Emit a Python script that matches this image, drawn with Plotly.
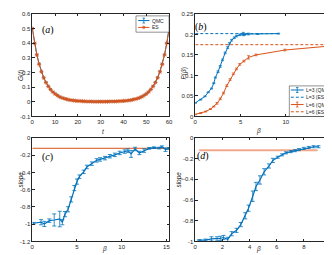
import plotly.graph_objects as go

BLUE = "#0072BD"
ORANGE = "#D95319"
AX = "#262626"

# ---------- panel (a) ----------
t_vals = list(range(61))
G_es = [0.500, 0.400, 0.320, 0.256, 0.205, 0.164, 0.131, 0.105, 0.084, 0.067,
        0.054, 0.043, 0.034, 0.027, 0.022, 0.018, 0.014, 0.011, 0.009, 0.007,
        0.006, 0.005, 0.004, 0.003, 0.002, 0.002, 0.002, 0.001, 0.001, 0.001,
        0.001, 0.001, 0.001, 0.001, 0.002, 0.002, 0.002, 0.003, 0.004, 0.005,
        0.006, 0.007, 0.009, 0.011, 0.014, 0.018, 0.022, 0.027, 0.034, 0.043,
        0.054, 0.067, 0.084, 0.105, 0.131, 0.164, 0.205, 0.256, 0.320, 0.400,
        0.500]
G_qmc = [0.500, 0.401, 0.322, 0.259, 0.207, 0.166, 0.133, 0.106, 0.085, 0.068,
         0.055, 0.044, 0.035, 0.028, 0.022, 0.018, 0.014, 0.011, 0.009, 0.007,
         0.006, 0.005, 0.004, 0.003, 0.002, 0.002, 0.002, 0.001, 0.001, 0.001,
         0.001, 0.001, 0.001, 0.001, 0.002, 0.002, 0.002, 0.003, 0.004, 0.005,
         0.006, 0.007, 0.009, 0.011, 0.014, 0.018, 0.022, 0.028, 0.035, 0.044,
         0.055, 0.068, 0.085, 0.107, 0.133, 0.166, 0.207, 0.259, 0.322, 0.401,
         0.500]
G_err = [0.003] * 61
a_yticks = [-0.1, 0, 0.1, 0.2, 0.3, 0.4, 0.5, 0.6]
a_yticktext = ["-0.1", "0", "0.1", "0.2", "0.3", "0.4", "0.5", "0.6"]

# ---------- panel (b) ----------
beta_L3 = [0.0, 0.6, 1.07, 1.43, 1.79, 2.04, 2.22, 2.51, 2.76, 3.01, 3.3, 3.58,
           3.77, 4.02, 4.3, 4.55, 4.91, 5.3, 5.45, 5.88, 6.9, 9.2]
P_L3 = [0.033, 0.041, 0.049, 0.059, 0.068, 0.081, 0.095, 0.109, 0.122, 0.138,
        0.155, 0.168, 0.178, 0.186, 0.192, 0.196, 0.199, 0.201, 0.200, 0.201,
        0.201, 0.202]
P_L3_err = [0.001, 0.001, 0.001, 0.001, 0.001, 0.001, 0.001, 0.002, 0.002,
            0.002, 0.002, 0.002, 0.002, 0.002, 0.002, 0.002, 0.002, 0.004,
            0.002, 0.002, 0.001, 0.001]
beta_L3_es = [0.0, 9.2]
P_L3_es = [0.202, 0.202]

beta_L6 = [0.0, 0.6, 1.14, 1.68, 2.04, 2.4, 2.76, 3.12, 3.48, 3.84, 4.2, 4.55,
           4.91, 5.38, 5.88, 6.7, 9.9, 15.0]
P_L6 = [0.005, 0.008, 0.012, 0.018, 0.024, 0.032, 0.043, 0.057, 0.075, 0.090,
        0.104, 0.116, 0.127, 0.135, 0.144, 0.150, 0.162, 0.172]
P_L6_err = [0.001, 0.001, 0.001, 0.001, 0.001, 0.002, 0.002, 0.002, 0.002,
            0.002, 0.002, 0.002, 0.002, 0.002, 0.004, 0.002, 0.002, 0.002]
beta_L6_es = [0.0, 15.0]
P_L6_es = [0.175, 0.175]
b_yticks = [0, 0.05, 0.1, 0.15, 0.2, 0.25]
b_yticktext = ["0", "0.05", "0.1", "0.15", "0.2", "0.25"]

# ---------- panel (c) ----------
beta_c = [0.14, 0.98, 1.35, 1.9, 2.45, 3.07, 3.36, 3.66, 4.0, 4.35, 4.7, 5.0,
          5.27, 5.75, 6.1, 6.66, 7.2, 7.58, 8.13, 8.68, 9.23, 9.78, 10.33,
          10.7, 11.05, 11.5, 11.98, 12.5, 13.08, 13.6, 14.2, 14.5, 14.9, 15.3]
slope_c = [-0.989, -0.977, -0.997, -0.959, -0.951, -0.940, -0.977, -0.883,
           -0.827, -0.713, -0.581, -0.506, -0.449, -0.393, -0.336, -0.298,
           -0.260, -0.249, -0.234, -0.212, -0.196, -0.174, -0.158, -0.147,
           -0.185, -0.128, -0.174, -0.147, -0.121, -0.113, -0.117, -0.102,
           -0.136, -0.121]
slope_c_err = [0.01, 0.03, 0.03, 0.02, 0.07, 0.09, 0.03, 0.03, 0.03, 0.03,
               0.03, 0.03, 0.02, 0.02, 0.02, 0.02, 0.02, 0.02, 0.02, 0.02,
               0.02, 0.02, 0.02, 0.02, 0.04, 0.02, 0.02, 0.02, 0.01, 0.01,
               0.01, 0.01, 0.02, 0.01]
beta_c_es = [0.0, 15.3]
slope_c_es = [-0.12, -0.12]
c_yticks = [-1.2, -1.0, -0.8, -0.6, -0.4, -0.2, 0]
c_yticktext = ["-1.2", "-1", "-0.8", "-0.6", "-0.4", "-0.2", "0"]

# ---------- panel (d) ----------
beta_d = [0.29, 0.76, 1.19, 1.6, 1.84, 2.08, 2.39, 2.68, 3.04, 3.35, 3.68,
          3.92, 4.23, 4.47, 4.76, 5.07, 5.43, 5.71, 6.07, 6.39, 6.68, 7.04,
          7.34, 7.63, 7.99, 8.35, 8.71, 9.07]
slope_d = [-0.987, -0.987, -0.975, -0.975, -0.970, -0.962, -0.980, -0.925,
           -0.893, -0.837, -0.752, -0.679, -0.563, -0.469, -0.406, -0.327,
           -0.271, -0.217, -0.186, -0.163, -0.144, -0.132, -0.123, -0.113,
           -0.101, -0.092, -0.085, -0.085]
slope_d_err = [0.005, 0.01, 0.02, 0.02, 0.02, 0.02, 0.02, 0.02, 0.02, 0.02,
               0.03, 0.03, 0.05, 0.04, 0.04, 0.03, 0.02, 0.02, 0.01, 0.01,
               0.01, 0.01, 0.01, 0.01, 0.01, 0.01, 0.01, 0.01]
beta_d_es = [0.29, 9.0]
slope_d_es = [-0.12, -0.12]
d_yticks = [-1.0, -0.8, -0.6, -0.4, -0.2, 0]
d_yticktext = ["-1", "-0.8", "-0.6", "-0.4", "-0.2", "0"]

legend_a_labels = ["QMC", "ES"]
legend_b_labels = ["L=3 (QMC)", "L=3 (ES)", "L=6 (QMC)", "L=6 (ES)"]

W, H = 332, 255


def px(xp):
    return xp / W


def py(yp):
    return 1 - yp / H


fig = go.Figure()

# (a)
fig.add_trace(go.Scatter(x=t_vals, y=G_qmc, mode="lines", name="QMC",
                         line=dict(color=BLUE, width=1),
                         error_y=dict(type="data", array=G_err, color=BLUE,
                                      thickness=0.8, width=1.5),
                         xaxis="x", yaxis="y"))
fig.add_trace(go.Scatter(x=t_vals, y=G_es, mode="lines+markers", name="ES",
                         line=dict(color=ORANGE, width=1),
                         marker=dict(symbol="asterisk-open", size=3.5,
                                     line=dict(color=ORANGE, width=0.8)),
                         xaxis="x", yaxis="y"))

# (b)
fig.add_trace(go.Scatter(x=beta_L3, y=P_L3, mode="lines", name="L=3 (QMC)",
                         line=dict(color=BLUE, width=1),
                         error_y=dict(type="data", array=P_L3_err, color=BLUE,
                                      thickness=0.8, width=1.5),
                         xaxis="x2", yaxis="y2"))
fig.add_trace(go.Scatter(x=beta_L3_es, y=P_L3_es, mode="lines", name="L=3 (ES)",
                         line=dict(color=BLUE, width=1, dash="3px,2px"),
                         xaxis="x2", yaxis="y2"))
fig.add_trace(go.Scatter(x=beta_L6, y=P_L6, mode="lines", name="L=6 (QMC)",
                         line=dict(color=ORANGE, width=1),
                         error_y=dict(type="data", array=P_L6_err, color=ORANGE,
                                      thickness=0.8, width=1.5),
                         xaxis="x2", yaxis="y2"))
fig.add_trace(go.Scatter(x=beta_L6_es, y=P_L6_es, mode="lines", name="L=6 (ES)",
                         line=dict(color=ORANGE, width=1, dash="3px,2px"),
                         xaxis="x2", yaxis="y2"))

# (c)
fig.add_trace(go.Scatter(x=beta_c_es, y=slope_c_es, mode="lines",
                         line=dict(color=ORANGE, width=1),
                         xaxis="x3", yaxis="y3"))
fig.add_trace(go.Scatter(x=beta_c, y=slope_c, mode="lines",
                         line=dict(color=BLUE, width=1.2),
                         error_y=dict(type="data", array=slope_c_err,
                                      color=BLUE, thickness=0.8, width=2),
                         xaxis="x3", yaxis="y3"))

# (d)
fig.add_trace(go.Scatter(x=beta_d_es, y=slope_d_es, mode="lines",
                         line=dict(color="#F0A88C", width=2),
                         xaxis="x4", yaxis="y4"))
fig.add_trace(go.Scatter(x=beta_d, y=slope_d, mode="lines",
                         line=dict(color=BLUE, width=1.2),
                         error_y=dict(type="data", array=slope_d_err,
                                      color=BLUE, thickness=0.8, width=2),
                         xaxis="x4", yaxis="y4"))

tickfont = dict(family="Liberation Sans, Arial", size=6, color=AX)


def axis(domain, rng, dtick, anchor, tv=None, tt=None):
    d = dict(domain=domain, range=rng, dtick=dtick, tick0=0, anchor=anchor,
             showline=True, linecolor=AX, linewidth=0.6, mirror="ticks",
             ticks="inside", ticklen=2.5, tickwidth=0.6, tickcolor=AX,
             showgrid=False, zeroline=False, tickfont=tickfont)
    if tv is not None:
        d["tickmode"] = "array"
        d["tickvals"] = tv
        d["ticktext"] = tt
    return d


XR = 327
xa = [px(22.7), px(162)]
xb = [px(188.7), px(XR)]
ytop = [py(108), py(3)]
ybot = [py(236), py(130)]

fig.update_layout(
    width=W, height=H,
    margin=dict(l=0, r=0, t=0, b=0),
    paper_bgcolor="white", plot_bgcolor="white",
    showlegend=False,
    xaxis=axis(xa, [0, 60], 10, "y"),
    yaxis=axis(ytop, [-0.1, 0.6], 0.1, "x", a_yticks, a_yticktext),
    xaxis2=axis(xb, [0, 15], 5, "y2"),
    yaxis2=axis(ytop, [0, 0.25], 0.05, "x2", b_yticks, b_yticktext),
    xaxis3=axis(xa, [0, 15.3], 5, "y3"),
    yaxis3=axis(ybot, [-1.2, 0], 0.2, "x3", c_yticks, c_yticktext),
    xaxis4=axis(xb, [0, 10], 2, "y4"),
    yaxis4=axis(ybot, [-1, 0], 0.2, "x4", d_yticks, d_yticktext),
)

# ---- manual legends (shapes + text) ----
shapes = []


def pline(x0, y0, x1, y1, color, width=1, dash="solid"):
    shapes.append(dict(type="line", xref="paper", yref="paper",
                       x0=px(x0), y0=py(y0), x1=px(x1), y1=py(y1),
                       line=dict(color=color, width=width, dash=dash)))


def box(x0, y0, x1, y1):
    shapes.append(dict(type="rect", xref="paper", yref="paper",
                       x0=px(x0), y0=py(y0), x1=px(x1), y1=py(y1),
                       fillcolor="white", line=dict(color=AX, width=0.5),
                       layer="above"))


def errsample(x0, x1, yc, color):
    pline(x0, yc, x1, yc, color, 1)
    xc = (x0 + x1) / 2
    pline(xc, yc - 2.5, xc, yc + 2.5, color, 0.8)
    pline(xc - 1.3, yc - 2.5, xc + 1.3, yc - 2.5, color, 0.8)
    pline(xc - 1.3, yc + 2.5, xc + 1.3, yc + 2.5, color, 0.8)


def astsample(x0, x1, yc, color):
    pline(x0, yc, x1, yc, color, 1)
    xc = (x0 + x1) / 2
    r = 1.8
    pline(xc - r, yc, xc + r, yc, color, 0.8)
    pline(xc, yc - r, xc, yc + r, color, 0.8)
    pline(xc - r * 0.7, yc - r * 0.7, xc + r * 0.7, yc + r * 0.7, color, 0.8)
    pline(xc - r * 0.7, yc + r * 0.7, xc + r * 0.7, yc - r * 0.7, color, 0.8)


leg_font = dict(family="Liberation Sans, Arial", size=5, color=AX)

box(128.3, 5, 162, 21.7)
errsample(130.5, 142, 9.8, BLUE)
astsample(130.5, 142, 16.8, ORANGE)
for lab, yy in zip(legend_a_labels, [9.8, 16.8]):
    fig.add_annotation(xref="paper", yref="paper", x=px(143.5), y=py(yy),
                       xanchor="left", yanchor="middle", text=lab,
                       showarrow=False, font=leg_font, borderpad=0)

box(284.5, 76.7, XR, 108)
errsample(286, 299, 80.9, BLUE)
pline(286, 88.3, 299, 88.3, BLUE, 1, "3px,2px")
errsample(286, 299, 95.8, ORANGE)
pline(286, 103.2, 299, 103.2, ORANGE, 1, "3px,2px")
for lab, yy in zip(legend_b_labels, [80.9, 88.3, 95.8, 103.2]):
    fig.add_annotation(xref="paper", yref="paper", x=px(300), y=py(yy),
                       xanchor="left", yanchor="middle", text=lab,
                       showarrow=False, font=leg_font, borderpad=0)

fig.update_layout(shapes=shapes)

lab_font = dict(family="Liberation Sans, Arial", size=6.5, color=AX)
annots = [
    dict(text="<i>G</i>(<i>t</i>)", x=px(5), y=py(58), textangle=-90),
    dict(text="<i>t</i>", x=px(92), y=py(123)),
    dict(text="<i>P</i>(<i>β</i>)", x=px(177), y=py(56), textangle=-90),
    dict(text="<i>β</i>", x=px(258), y=py(123)),
    dict(text="<i>slope</i>", x=px(5), y=py(183), textangle=-90),
    dict(text="<i>β</i>", x=px(92), y=py(250)),
    dict(text="<i>slope</i>", x=px(172), y=py(183), textangle=-90),
    dict(text="<i>β</i>", x=px(258), y=py(250)),
]
for a in annots:
    fig.add_annotation(xref="paper", yref="paper", showarrow=False,
                       font=lab_font, **a)

panel_font = dict(family="Liberation Serif, DejaVu Serif", size=10, color="black")
for txt, xx, yy in [("(<i>a</i>)", 31, 11), ("(<i>b</i>)", 195, 8),
                    ("(<i>c</i>)", 31, 150), ("(<i>d</i>)", 197, 148)]:
    fig.add_annotation(xref="paper", yref="paper", x=px(xx), y=py(yy),
                       text=txt, showarrow=False, font=panel_font)

fig.write_html("out.html")
